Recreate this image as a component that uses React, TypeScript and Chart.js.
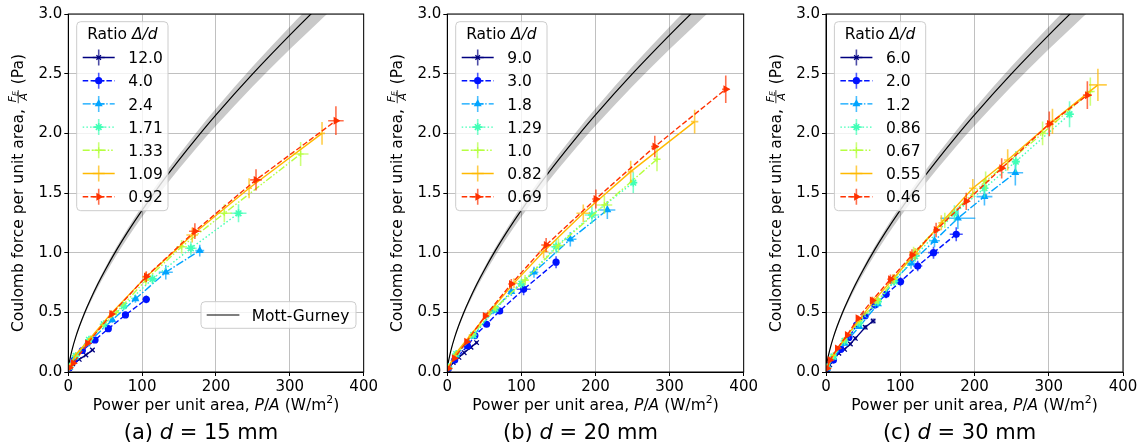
import React, { useEffect, useRef } from 'react';
import { Chart, registerables } from 'chart.js';
import { drawPoint } from 'chart.js/helpers';

Chart.register(...registerables);

const FONT = "'DejaVu Sans', 'Noto Sans', sans-serif";

// ---------- Mott-Gurney reference ----------
const mgP = [0, 1, 2.5, 5, 10, 15, 22, 30, 40, 50, 65, 80, 100, 125, 150, 175, 200, 250, 300, 340, 380];
const mgF = [0, 0.063, 0.116, 0.184, 0.292, 0.383, 0.495, 0.608, 0.737, 0.855, 1.019, 1.17, 1.357, 1.575, 1.778, 1.971, 2.155, 2.5, 2.823, 3.069, 3.306];
const mgUpper = [0, 0.0646, 0.1189, 0.1886, 0.2993, 0.3926, 0.5074, 0.6232, 0.7554, 0.8764, 1.0445, 1.1993, 1.3909, 1.6144, 1.8225, 2.0203, 2.2089, 2.5625, 2.8936, 3.1457, 3.3887];
const mgLower = [0, 0.0604, 0.1111, 0.1763, 0.2797, 0.3669, 0.4742, 0.5825, 0.706, 0.8191, 0.9762, 1.1209, 1.3, 1.5089, 1.7033, 1.8882, 2.0645, 2.395, 2.7044, 2.9401, 3.1671];

// ---------- x / y ticks ----------
const xTicks = [0, 100, 200, 300, 400];
const yTicks = [0, 0.5, 1.0, 1.5, 2.0, 2.5, 3.0];

// ---------- (a) d = 15 mm ----------
const ratiosA = ['12.0', '4.0', '2.4', '1.71', '1.33', '1.09', '0.92'];
const aP = [
  [1.2, 6, 14.8, 23.8, 32.7],
  [1.5, 8, 19, 36.2, 54.2, 77.4, 105.6],
  [1.5, 9, 25, 59.6, 90.9, 132, 178],
  [1.5, 10, 28, 48, 75, 114, 166, 230.5],
  [1.5, 10, 30, 65, 105, 153.5, 211.3, 314.6],
  [1.5, 10, 28, 58, 105, 167.8, 244.8, 343.6],
  [1.5, 6.7, 26, 58.7, 105.6, 171.4, 254.2, 362.4],
];
const aF = [
  [0.03, 0.068, 0.106, 0.142, 0.184],
  [0.035, 0.1, 0.18, 0.268, 0.363, 0.478, 0.609],
  [0.04, 0.12, 0.235, 0.436, 0.612, 0.836, 1.017],
  [0.045, 0.135, 0.27, 0.4, 0.553, 0.78, 1.037, 1.33],
  [0.045, 0.14, 0.28, 0.5, 0.77, 1.05, 1.33, 1.827],
  [0.045, 0.145, 0.27, 0.49, 0.795, 1.148, 1.54, 2.0],
  [0.035, 0.073, 0.24, 0.486, 0.8, 1.18, 1.61, 2.106],
];
const aXE = [
  [0.1, 0.3, 0.7, 1.1, 1.5],
  [0.1, 0.4, 0.9, 1.7, 2.6, 3.7, 5],
  [0.1, 0.4, 1.2, 2.8, 4.3, 9.5, 6],
  [0.1, 0.5, 1.3, 2.3, 3.5, 5.4, 7.8, 10.8],
  [0.1, 0.5, 1.4, 3.1, 4.9, 7.2, 9.9, 10.7],
  [0.1, 0.5, 1.3, 2.7, 4.9, 7.9, 4, 4],
  [0.1, 0.3, 1.2, 2.8, 5, 8, 8, 10.5],
];
const aYE = [
  [0.002, 0.004, 0.006, 0.008, 0.01],
  [0.002, 0.005, 0.01, 0.014, 0.019, 0.025, 0.032],
  [0.002, 0.006, 0.012, 0.023, 0.032, 0.06, 0.05],
  [0.003, 0.007, 0.014, 0.021, 0.03, 0.042, 0.056, 0.075],
  [0.003, 0.008, 0.015, 0.027, 0.041, 0.057, 0.075, 0.1],
  [0.003, 0.008, 0.015, 0.027, 0.043, 0.062, 0.083, 0.096],
  [0.002, 0.004, 0.013, 0.027, 0.045, 0.066, 0.09, 0.12],
];

// ---------- (b) d = 20 mm ----------
const ratiosB = ['9.0', '3.0', '1.8', '1.29', '1.0', '0.82', '0.69'];
const bP = [
  [1.2, 8, 15.7, 22.8, 32, 39.5],
  [1.5, 10, 27.3, 37.2, 53, 70.7, 103, 146.8],
  [1.5, 12, 35, 61.8, 86.4, 117, 166, 216],
  [1.5, 12, 35, 65, 100, 146.8, 195.2, 251],
  [1.5, 12, 35, 65, 105, 150, 212, 283],
  [1.5, 12, 30, 55, 90, 130, 183.5, 247.5, 333.8],
  [1.5, 9.4, 26, 51, 86.4, 133.4, 200.5, 280, 375.8],
];
const bF = [
  [0.025, 0.08, 0.123, 0.162, 0.207, 0.246],
  [0.03, 0.1, 0.218, 0.305, 0.4, 0.511, 0.693, 0.92],
  [0.04, 0.14, 0.3, 0.511, 0.673, 0.836, 1.112, 1.358],
  [0.04, 0.15, 0.31, 0.53, 0.74, 1.05, 1.316, 1.587],
  [0.04, 0.15, 0.32, 0.54, 0.77, 1.06, 1.4, 1.783],
  [0.04, 0.16, 0.3, 0.49, 0.745, 1.01, 1.33, 1.679, 2.098],
  [0.03, 0.115, 0.254, 0.469, 0.738, 1.064, 1.45, 1.889, 2.37],
];
const bXE = [
  [0.1, 0.4, 0.8, 1.1, 1.6, 2],
  [0.1, 0.5, 1.4, 1.9, 2.7, 3.5, 9.4, 4],
  [0.1, 0.6, 1.8, 3.1, 4.3, 5.9, 8.3, 10.8],
  [0.1, 0.6, 1.8, 3.3, 5, 7.3, 9.8, 4],
  [0.1, 0.6, 1.8, 3.3, 5.3, 7.5, 10.6, 5],
  [0.1, 0.6, 1.5, 2.8, 4.5, 6.5, 9.2, 4, 5],
  [0.1, 0.5, 1.3, 2.6, 4.3, 6.7, 5, 5, 5],
];
const bYE = [
  [0.002, 0.005, 0.007, 0.009, 0.012, 0.014],
  [0.002, 0.006, 0.012, 0.017, 0.022, 0.028, 0.05, 0.05],
  [0.002, 0.008, 0.017, 0.028, 0.037, 0.046, 0.061, 0.075],
  [0.002, 0.008, 0.017, 0.029, 0.041, 0.058, 0.072, 0.087],
  [0.002, 0.008, 0.018, 0.03, 0.042, 0.058, 0.077, 0.1],
  [0.002, 0.009, 0.017, 0.027, 0.041, 0.056, 0.073, 0.092, 0.1],
  [0.002, 0.006, 0.014, 0.026, 0.041, 0.059, 0.08, 0.09, 0.115],
];

// ---------- (c) d = 30 mm ----------
const ratiosC = ['6.0', '2.0', '1.2', '0.86', '0.67', '0.55', '0.46'];
const cP = [
  [1.5, 5, 10.6, 17.3, 25, 32.8, 39.5, 52.9, 63.5],
  [1.5, 10, 20, 30.9, 41.2, 52.8, 65.8, 81, 100.3, 123.5, 144.8, 175.4],
  [1.5, 10, 25, 45, 70, 91.7, 114.5, 146.1, 177.6, 213.4, 255],
  [1.5, 10, 25, 45, 70, 92, 120, 173, 213.4, 255.6, 328],
  [1.5, 10, 25, 45, 70, 92, 118, 160, 215, 291.7, 356],
  [1.5, 10, 25, 45, 65, 90, 120, 155.3, 197.7, 244.7, 305, 366.2],
  [1.5, 5.4, 15.2, 28.6, 43, 62.2, 86.8, 115.8, 148.3, 188.9, 236.6, 300.7, 352],
];
const cF = [
  [0.02, 0.06, 0.115, 0.157, 0.19, 0.235, 0.282, 0.375, 0.427],
  [0.03, 0.1, 0.19, 0.29, 0.394, 0.472, 0.562, 0.651, 0.757, 0.888, 1.0, 1.154],
  [0.03, 0.12, 0.24, 0.38, 0.57, 0.765, 0.911, 1.1, 1.288, 1.47, 1.67],
  [0.04, 0.13, 0.26, 0.41, 0.59, 0.76, 0.97, 1.33, 1.54, 1.763, 2.16],
  [0.04, 0.14, 0.27, 0.43, 0.6, 0.78, 1.0, 1.27, 1.6, 2.0, 2.35],
  [0.04, 0.14, 0.28, 0.44, 0.6, 0.78, 0.99, 1.25, 1.54, 1.777, 2.1, 2.406],
  [0.03, 0.1, 0.198, 0.31, 0.45, 0.6, 0.777, 0.98, 1.19, 1.43, 1.707, 2.079, 2.32],
];
const cXE = [
  [0.1, 0.3, 0.5, 0.9, 1.3, 1.6, 2, 2.6, 3.2],
  [0.1, 0.5, 1, 1.5, 2.1, 2.6, 3.3, 4, 5, 6.2, 7.2, 8.8],
  [0.1, 0.5, 1.3, 2.3, 3.5, 4.6, 5.7, 7.3, 23.5, 10.7, 10.5],
  [0.1, 0.5, 1.3, 2.3, 3.5, 4.6, 6, 4, 5, 5, 6],
  [0.1, 0.5, 1.3, 2.3, 3.5, 4.6, 6, 4, 5, 5, 6],
  [0.1, 0.5, 1.3, 2.3, 3.3, 4.5, 6, 4, 5, 5, 6, 12],
  [0.1, 0.3, 0.8, 1.4, 2.2, 3.1, 4.3, 4, 4, 4, 5, 5, 6],
];
const cYE = [
  [0.001, 0.003, 0.006, 0.008, 0.01, 0.012, 0.015, 0.019, 0.021],
  [0.002, 0.005, 0.01, 0.015, 0.02, 0.024, 0.028, 0.033, 0.038, 0.044, 0.05, 0.058],
  [0.002, 0.006, 0.012, 0.019, 0.029, 0.038, 0.046, 0.055, 0.09, 0.074, 0.107],
  [0.002, 0.007, 0.013, 0.021, 0.03, 0.038, 0.049, 0.067, 0.077, 0.088, 0.108],
  [0.002, 0.007, 0.014, 0.022, 0.03, 0.039, 0.05, 0.064, 0.08, 0.1, 0.118],
  [0.002, 0.007, 0.014, 0.022, 0.03, 0.039, 0.05, 0.063, 0.077, 0.089, 0.105, 0.135],
  [0.002, 0.005, 0.01, 0.016, 0.023, 0.03, 0.039, 0.049, 0.06, 0.072, 0.085, 0.104, 0.116],
];

// ---------- styles ----------
const seriesColors = ['#000080', '#0012ff', '#00a4ff', '#41ffb6', '#b6ff41', '#ffb900', '#ff3200'];
const seriesErrColors = ['rgba(0,0,128,0.7)', 'rgba(0,18,255,0.7)', 'rgba(0,164,255,0.7)', 'rgba(65,255,182,0.7)', 'rgba(182,255,65,0.7)', 'rgba(255,185,0,0.7)', 'rgba(255,50,0,0.7)'];
const seriesDash = [[], [5.5, 2.4], [8, 2, 1.5, 2], [1.5, 2.2], [7, 2, 1.5, 2, 1.5, 2], [], [5.5, 2.4]];
const seriesMarker: any[] = [
  { style: 'crossRot', r: 3.2, rot: 0, bw: 1.3 },
  { style: 'circle', r: 3.6, rot: 0, bw: 0 },
  { style: 'triangle', r: 4.6, rot: 0, bw: 0 },
  { style: 'star', r: 4, rot: 0, bw: 1.6 },
  { style: 'cross', r: 3, rot: 0, bw: 1.2 },
  { style: 'circle', r: 0, rot: 0, bw: 0 },
  { style: 'triangle', r: 4.6, rot: 90, bw: 0 },
];

const TICK_SIZE = 15;
const LABEL_SIZE = 15.5;
const LEGEND_SIZE = 15.5;
const CAPTION_SIZE = 21;

function fontStr(size: number, italic = false) {
  return `${italic ? 'italic ' : ''}${size}px ${FONT}`;
}

type Seg = { t: string; it?: boolean; sz?: number; dy?: number; frac?: boolean };

function segWidth(ctx: CanvasRenderingContext2D, s: Seg, base: number) {
  if (s.frac) {
    ctx.font = fontStr(base * 0.7, true);
    const wF = ctx.measureText('F').width;
    const wA = ctx.measureText('A').width;
    ctx.font = fontStr(base * 0.5, true);
    const wE = ctx.measureText('E').width;
    return Math.max(wF + wE, wA) + 4;
  }
  ctx.font = fontStr(s.sz ?? base, s.it);
  return ctx.measureText(s.t).width;
}

function drawSegs(ctx: CanvasRenderingContext2D, segs: Seg[], cx: number, baseline: number, base: number) {
  ctx.textAlign = 'left';
  ctx.textBaseline = 'alphabetic';
  const widths = segs.map((s) => segWidth(ctx, s, base));
  const total = widths.reduce((a, b) => a + b, 0);
  let x = cx - total / 2;
  segs.forEach((s, i) => {
    const w = widths[i];
    if (s.frac) {
      const barY = baseline - base * 0.33;
      ctx.fillRect(x + 1, barY - 0.4, w - 2, 0.8);
      ctx.font = fontStr(base * 0.7, true);
      const wF = ctx.measureText('F').width;
      const wA = ctx.measureText('A').width;
      ctx.font = fontStr(base * 0.5, true);
      const wE = ctx.measureText('E').width;
      ctx.font = fontStr(base * 0.7, true);
      const nx = x + (w - (wF + wE)) / 2;
      ctx.fillText('F', nx, barY - 2);
      ctx.font = fontStr(base * 0.5, true);
      ctx.fillText('E', nx + wF, barY - 0.5);
      ctx.font = fontStr(base * 0.7, true);
      ctx.fillText('A', x + (w - wA) / 2, barY + base * 0.58);
    } else {
      ctx.font = fontStr(s.sz ?? base, s.it);
      ctx.fillText(s.t, x, baseline + (s.dy ?? 0));
    }
    x += w;
  });
}

type PanelDef = {
  left: number;
  width: number;
  areaLeft: number;
  areaRight: number;
  P: number[][];
  F: number[][];
  XE: number[][];
  YE: number[][];
  ratios: string[];
  letter: string;
  dval: string;
  mg: boolean;
};

const AREA_TOP = 14;
const AREA_BOTTOM = 372;
const HEIGHT = 445;

const panels: PanelDef[] = [
  { left: 0, width: 380, areaLeft: 68.3, areaRight: 366, P: aP, F: aF, XE: aXE, YE: aYE, ratios: ratiosA, letter: '(a) ', dval: ' = 15 mm', mg: true },
  { left: 380, width: 380, areaLeft: 67.3, areaRight: 365, P: bP, F: bF, XE: bXE, YE: bYE, ratios: ratiosB, letter: '(b) ', dval: ' = 20 mm', mg: false },
  { left: 760, width: 381, areaLeft: 66, areaRight: 363, P: cP, F: cF, XE: cXE, YE: cYE, ratios: ratiosC, letter: '(c) ', dval: ' = 30 mm', mg: false },
];

function drawHandle(ctx: CanvasRenderingContext2D, i: number, x0: number, x1: number, y: number) {
  const cx = (x0 + x1) / 2;
  ctx.save();
  ctx.strokeStyle = seriesColors[i];
  ctx.lineWidth = 1.4;
  ctx.setLineDash(seriesDash[i]);
  ctx.beginPath();
  ctx.moveTo(x0, y);
  ctx.lineTo(x1, y);
  ctx.stroke();
  ctx.setLineDash([]);
  ctx.strokeStyle = seriesErrColors[i];
  ctx.lineWidth = 1.6;
  ctx.beginPath();
  ctx.moveTo(cx, y - 8);
  ctx.lineTo(cx, y + 8);
  ctx.moveTo(cx - 6, y);
  ctx.lineTo(cx + 6, y);
  ctx.stroke();
  const m = seriesMarker[i];
  if (m.r > 0) {
    ctx.fillStyle = seriesColors[i];
    ctx.strokeStyle = seriesColors[i];
    ctx.lineWidth = m.bw;
    drawPoint(ctx, { pointStyle: m.style, radius: m.r, rotation: m.rot, borderWidth: m.bw } as any, cx, y);
  }
  ctx.restore();
}

function roundRect(ctx: CanvasRenderingContext2D, x: number, y: number, w: number, h: number, r: number) {
  ctx.beginPath();
  ctx.moveTo(x + r, y);
  ctx.lineTo(x + w - r, y);
  ctx.arcTo(x + w, y, x + w, y + r, r);
  ctx.lineTo(x + w, y + h - r);
  ctx.arcTo(x + w, y + h, x + w - r, y + h, r);
  ctx.lineTo(x + r, y + h);
  ctx.arcTo(x, y + h, x, y + h - r, r);
  ctx.lineTo(x, y + r);
  ctx.arcTo(x, y, x + r, y, r);
  ctx.closePath();
}

function buildChart(canvas: HTMLCanvasElement, p: PanelDef) {
  const datasets: any[] = [];
  datasets.push({
    label: 'band-upper',
    data: mgP.map((x, j) => ({ x, y: mgUpper[j] })),
    borderColor: 'rgba(0,0,0,0)',
    borderWidth: 1,
    pointRadius: 0,
    fill: false,
    order: 200,
    cubicInterpolationMode: 'monotone',
  });
  datasets.push({
    label: 'band-lower',
    data: mgP.map((x, j) => ({ x, y: mgLower[j] })),
    borderColor: 'rgba(0,0,0,0)',
    borderWidth: 1,
    backgroundColor: 'rgba(0,0,0,0.21)',
    pointRadius: 0,
    fill: '-1',
    order: 199,
    cubicInterpolationMode: 'monotone',
  });
  datasets.push({
    label: 'Mott-Gurney',
    data: mgP.map((x, j) => ({ x, y: mgF[j] })),
    borderColor: '#000000',
    borderWidth: 1.2,
    pointRadius: 0,
    fill: false,
    order: 198,
    cubicInterpolationMode: 'monotone',
  });
  p.P.forEach((arr, i) => {
    const m = seriesMarker[i];
    datasets.push({
      label: p.ratios[i],
      data: arr.map((x, j) => ({ x, y: p.F[i][j] })),
      borderColor: seriesColors[i],
      backgroundColor: seriesColors[i],
      borderWidth: 1.4,
      borderDash: seriesDash[i],
      pointStyle: m.style,
      pointRadius: m.r,
      pointRotation: m.rot,
      pointBorderWidth: m.bw,
      pointBorderColor: seriesColors[i],
      pointBackgroundColor: seriesColors[i],
      fill: false,
      order: 50 - i,
      xErr: p.XE[i],
      yErr: p.YE[i],
      seriesIndex: i,
    });
  });

  const errorBars = {
    id: 'errorBars',
    afterDatasetDraw(chart: any, args: any) {
      const ds = chart.data.datasets[args.index];
      if (!ds.xErr) return;
      const ctx = chart.ctx as CanvasRenderingContext2D;
      const xs = chart.scales.x;
      const ys = chart.scales.y;
      const a = chart.chartArea;
      ctx.save();
      ctx.beginPath();
      ctx.rect(a.left, a.top, a.right - a.left, a.bottom - a.top);
      ctx.clip();
      ctx.strokeStyle = seriesErrColors[ds.seriesIndex];
      ctx.lineWidth = 1.6;
      ctx.beginPath();
      ds.data.forEach((pt: any, j: number) => {
        const px = xs.getPixelForValue(pt.x);
        const py = ys.getPixelForValue(pt.y);
        const ex = ds.xErr[j] ?? 0;
        const ey = ds.yErr[j] ?? 0;
        ctx.moveTo(xs.getPixelForValue(pt.x - ex), py);
        ctx.lineTo(xs.getPixelForValue(pt.x + ex), py);
        ctx.moveTo(px, ys.getPixelForValue(pt.y - ey));
        ctx.lineTo(px, ys.getPixelForValue(pt.y + ey));
      });
      ctx.stroke();
      ctx.restore();
    },
  };

  const decorations = {
    id: 'decorations',
    afterDraw(chart: any) {
      const ctx = chart.ctx as CanvasRenderingContext2D;
      const a = chart.chartArea;
      ctx.save();
      // frame
      ctx.strokeStyle = '#000000';
      ctx.lineWidth = 1;
      ctx.setLineDash([]);
      ctx.strokeRect(a.left, a.top, a.right - a.left, a.bottom - a.top);

      // ratio legend
      const bx = a.left + 8.4;
      const by = a.top + 7.7;
      const bw = 91.3;
      const bh = 189;
      roundRect(ctx, bx, by, bw, bh, 4);
      ctx.fillStyle = 'rgba(255,255,255,0.8)';
      ctx.fill();
      ctx.strokeStyle = '#cccccc';
      ctx.lineWidth = 1;
      ctx.stroke();
      ctx.fillStyle = '#000000';
      drawSegs(ctx, [{ t: 'Ratio ' }, { t: 'Δ/d', it: true }], bx + bw / 2, a.top + 24.5, LEGEND_SIZE);
      p.ratios.forEach((r, i) => {
        const yy = a.top + 43.5 + i * 23.2;
        drawHandle(ctx, i, a.left + 14.4, a.left + 46.4, yy);
        ctx.fillStyle = '#000000';
        ctx.font = fontStr(LEGEND_SIZE);
        ctx.textAlign = 'left';
        ctx.textBaseline = 'alphabetic';
        ctx.fillText(r, a.left + 60, yy + 5.6);
      });

      // Mott-Gurney legend
      if (p.mg) {
        const mx = a.right - 162.7;
        const my = a.bottom - 70.3;
        roundRect(ctx, mx, my, 155, 26.6, 4);
        ctx.fillStyle = 'rgba(255,255,255,0.8)';
        ctx.fill();
        ctx.strokeStyle = '#cccccc';
        ctx.stroke();
        ctx.strokeStyle = '#000000';
        ctx.lineWidth = 1.2;
        ctx.beginPath();
        ctx.moveTo(mx + 5.7, my + 13.3);
        ctx.lineTo(mx + 38.4, my + 13.3);
        ctx.stroke();
        ctx.fillStyle = '#000000';
        ctx.font = fontStr(LEGEND_SIZE);
        ctx.textAlign = 'left';
        ctx.textBaseline = 'alphabetic';
        ctx.fillText('Mott-Gurney', mx + 50.7, my + 18.9);
      }

      // x title
      ctx.fillStyle = '#000000';
      const cxArea = (a.left + a.right) / 2;
      drawSegs(
        ctx,
        [
          { t: 'Power per unit area, ' },
          { t: 'P', it: true },
          { t: '/' },
          { t: 'A', it: true },
          { t: ' (W/m' },
          { t: '2', sz: LABEL_SIZE * 0.7, dy: -LABEL_SIZE * 0.42 },
          { t: ')' },
        ],
        cxArea,
        409.5,
        LABEL_SIZE
      );

      // caption
      drawSegs(ctx, [{ t: p.letter }, { t: 'd', it: true }, { t: p.dval }], cxArea - 15, 439, CAPTION_SIZE);

      // y title
      ctx.save();
      ctx.translate(a.left - 45, (a.top + a.bottom) / 2);
      ctx.rotate(-Math.PI / 2);
      drawSegs(
        ctx,
        [{ t: 'Coulomb force per unit area, ' }, { t: '', frac: true }, { t: ' (Pa)' }],
        0,
        0,
        LABEL_SIZE
      );
      ctx.restore();
      ctx.restore();
    },
  };

  const tickFont = { size: TICK_SIZE, family: FONT };
  return new Chart(canvas, {
    type: 'line',
    data: { datasets },
    options: {
      animation: false,
      responsive: false,
      maintainAspectRatio: false,
      devicePixelRatio: 1,
      events: [],
      layout: { padding: { left: 0, right: p.width - p.areaRight, top: AREA_TOP, bottom: 0 } },
      plugins: {
        legend: { display: false },
        tooltip: { enabled: false },
        title: { display: false },
      },
      scales: {
        x: {
          type: 'linear',
          min: xTicks[0],
          max: xTicks[xTicks.length - 1],
          afterFit: (s: any) => {
            s.height = HEIGHT - AREA_BOTTOM;
          },
          afterBuildTicks: (s: any) => {
            s.ticks = xTicks.map((v) => ({ value: v }));
          },
          ticks: { color: '#000000', font: tickFont, padding: 2, maxRotation: 0, autoSkip: false },
          grid: { color: '#b0b0b0', lineWidth: 0.8, tickColor: '#000000', tickLength: 4, tickWidth: 1 },
          border: { display: true, color: '#000000', width: 1 },
        },
        y: {
          type: 'linear',
          min: yTicks[0],
          max: yTicks[yTicks.length - 1],
          afterFit: (s: any) => {
            s.width = p.areaLeft;
          },
          afterBuildTicks: (s: any) => {
            s.ticks = yTicks.map((v) => ({ value: v }));
          },
          ticks: {
            color: '#000000',
            font: tickFont,
            padding: 2,
            autoSkip: false,
            callback: (v: any) => Number(v).toFixed(1),
          },
          grid: { color: '#b0b0b0', lineWidth: 0.8, tickColor: '#000000', tickLength: 4, tickWidth: 1 },
          border: { display: true, color: '#000000', width: 1 },
        },
      },
    } as any,
    plugins: [errorBars, decorations],
  });
}

export default function App() {
  const refs = [useRef<HTMLCanvasElement>(null), useRef<HTMLCanvasElement>(null), useRef<HTMLCanvasElement>(null)];
  useEffect(() => {
    const charts = panels.map((p, i) => buildChart(refs[i].current as HTMLCanvasElement, p));
    return () => charts.forEach((c) => c.destroy());
  }, []);
  return (
    <div style={{ position: 'absolute', left: 0, top: 0, width: 1141, height: HEIGHT, background: '#ffffff' }}>
      {panels.map((p, i) => (
        <canvas
          key={i}
          ref={refs[i]}
          width={p.width}
          height={HEIGHT}
          style={{ position: 'absolute', left: p.left, top: 0, width: p.width, height: HEIGHT }}
        />
      ))}
    </div>
  );
}
